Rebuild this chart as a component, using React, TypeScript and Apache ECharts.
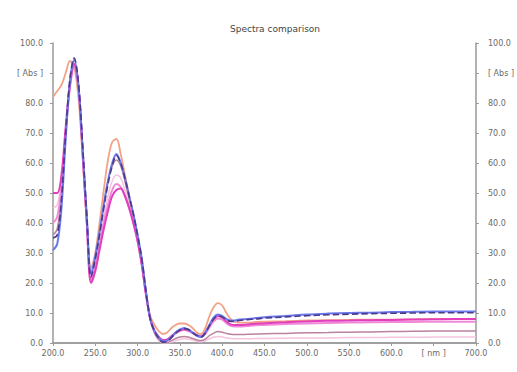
import React, { useEffect, useRef } from "react";
import * as echarts from "echarts";

const title = "Spectra comparison";
const xTicks = [200, 250, 300, 350, 400, 450, 500, 550, 600, 650, 700];
const xUnitTick = 650;
const xUnitLabel = "[ nm ]";
const yUnitTick = 90;
const yUnitLabel = "[ Abs ]";

const wavelengths = [200,205,210,215,220,225,230,235,240,245,250,255,260,265,270,275,280,285,290,295,300,305,310,315,320,325,330,335,340,345,350,355,360,365,370,375,380,385,390,395,400,405,410,415,420,430,440,450,475,500,525,550,575,600,625,650,675,700];

const lightPink = [45,46,54,71,86,92,85,64,41,22, 26,34,42,49,54,56,55,51,46,41, 34,26,16,7.5,3,0.8,0,0,0.3,0.8, 1.2,1.4,1.3,1,0.6,0.4,0.7,1.4,2,2.2, 2,1.7,1.5,1.4,1.4,1.4,1.5,1.5,1.6,1.7, 1.7,1.8,1.8,1.9,1.9,2,2,2];
const mauve = [36,38,50,70,87,93,86,65,42,23, 28,37,46,54,59,61,59,54,48,42, 35,27,16,8,3.5,1.2,0.2,0.2,0.8,1.5, 2,2.2,2,1.5,1,0.8,1.3,2.5,3.3,3.8, 3.6,3.2,2.9,2.8,2.8,2.9,3,3.1,3.2,3.4, 3.5,3.6,3.7,3.8,3.9,4,4,4];
const orange = [82,84,86,90,94,92,82,62,40,25, 30,40,51,61,67,68,63,56,49,42, 35,27,17,9,6,4,3,3.5,5,6, 6.5,6.5,6,5,3.5,3,5,9,12,13.3, 12.5,10,8,7,6.8,6.8,7,7.1,7.3,7.5, 7.6,7.7,7.8,7.8,7.9,8,8,8];
const pink = [40,42,52,70,85,92,85,63,40,21, 25,32,40,46,51,53,52,49,45,40, 34,26,16,8,4,2,0.8,1,2,3.2, 4,4.3,4,3.3,2.5,2,3,5.3,7.2,8.2, 7.8,6.6,5.7,5.5,5.5,5.7,5.9,6,6.3,6.5, 6.7,6.8,6.9,7,7,7.1,7.1,7.1];
const magenta = [50,50,56,72,86,93,86,64,40,20, 24,31,38,44,49,51,51.5,49,45,40, 34,26,16,8,4,2,1,1.2,2.3,3.5, 4.3,4.6,4.3,3.5,2.6,2.2,3.5,6,8,9, 8.5,7.2,6.2,6,6,6.2,6.4,6.6,6.9,7.2, 7.4,7.5,7.6,7.7,7.8,7.9,8,8];
const blue = [31,33,45,68,87,94.3,86,65,42,23, 29,37,46,54,60,63,60,55,49,43, 36,28,17,8,4,2,0.5,0.8,2,3.5, 4.5,5,4.5,3.5,2.5,2,3.5,6,8.5,9.5, 9,8,7.5,7.5,7.8,8,8.3,8.6,9,9.5, 9.8,10,10.1,10.3,10.4,10.5,10.5,10.5];
const navy = [35,36,48,70,88,95,87,66,42,22, 28,36,45,53,59,62.5,60,55,49,43, 36,28,17,8,4,1.5,0.3,0.5,1.8,3.3, 4.3,4.8,4.5,3.5,2.5,2,3.3,5.8,8,9, 8.7,7.7,7.2,7.2,7.5,7.8,8,8.3,8.7,9.1, 9.4,9.6,9.8,9.9,10,10.1,10.1,10.1];

const seriesDefs = [
  { name: "S7", values: lightPink, color: "#f6c4de", width: 1.5, type: "solid" },
  { name: "S6", values: mauve, color: "#b9839f", width: 1.5, type: "solid" },
  { name: "S5", values: orange, color: "#f3a286", width: 1.8, type: "solid" },
  { name: "S4", values: pink, color: "#f08ad8", width: 2, type: "solid" },
  { name: "S3", values: magenta, color: "#e23fbf", width: 2, type: "solid" },
  { name: "S2", values: blue, color: "#6a78ec", width: 2, type: "solid" },
  { name: "S1", values: navy, color: "#4b3a8a", width: 1.6, type: "dashed" },
];

const fmtX = (v: number) => (v === xUnitTick ? xUnitLabel : v.toFixed(1));
const fmtY = (v: number) => (v === yUnitTick ? yUnitLabel : v.toFixed(1));

export default function App() {
  const ref = useRef<HTMLDivElement>(null);
  useEffect(() => {
    document.body.style.margin = "0";
    const chart = echarts.init(ref.current!, undefined, { renderer: "svg" });
    const axisLine = { show: true, lineStyle: { color: "#9a9a9a", width: 1.5 } };
    const labelStyle = { color: "#6a6a6a", fontSize: 8, fontFamily: "DejaVu Sans" };
    chart.setOption({
      animation: false,
      backgroundColor: "#ffffff",
      title: {
        text: title,
        left: 270,
        top: 19,
        textAlign: "center",
        textStyle: { fontSize: 9, fontWeight: "normal", color: "#444", fontFamily: "DejaVu Sans" },
      },
      grid: { left: 53, right: 40, top: 43, bottom: 29 },
      xAxis: [
        {
          type: "value", min: 200, max: 700, interval: 50, position: "bottom",
          axisLine, splitLine: { show: false },
          axisTick: { show: true, length: 3, inside: false, lineStyle: { color: "#9a9a9a" } },
          axisLabel: { ...labelStyle, margin: 6, formatter: fmtX },
        },
        {
          type: "value", min: 200, max: 700, interval: 50, position: "top",
          axisLine, splitLine: { show: false },
          axisTick: { show: true, length: 3, inside: true, lineStyle: { color: "#9a9a9a" } },
          axisLabel: { show: false },
        },
      ],
      yAxis: [
        {
          type: "value", min: 0, max: 100, interval: 10, position: "left",
          axisLine, splitLine: { show: false },
          axisTick: { show: true, length: 3, lineStyle: { color: "#9a9a9a" } },
          axisLabel: { ...labelStyle, margin: 10, formatter: fmtY },
        },
        {
          type: "value", min: 0, max: 100, interval: 10, position: "right",
          axisLine, splitLine: { show: false },
          axisTick: { show: true, length: 3, lineStyle: { color: "#9a9a9a" } },
          axisLabel: { ...labelStyle, margin: 12, formatter: fmtY },
        },
      ],
      series: seriesDefs.map((s) => ({
        name: s.name,
        type: "line",
        smooth: 0.35,
        showSymbol: false,
        xAxisIndex: 0,
        yAxisIndex: 0,
        data: wavelengths.map((w, i) => [w, s.values[i]]),
        lineStyle: { color: s.color, width: s.width, type: s.type },
        itemStyle: { color: s.color },
      })),
    });
    return () => chart.dispose();
  }, []);
  return <div ref={ref} style={{ width: 517, height: 372, position: "absolute", left: 0, top: 0 }} />;
}
